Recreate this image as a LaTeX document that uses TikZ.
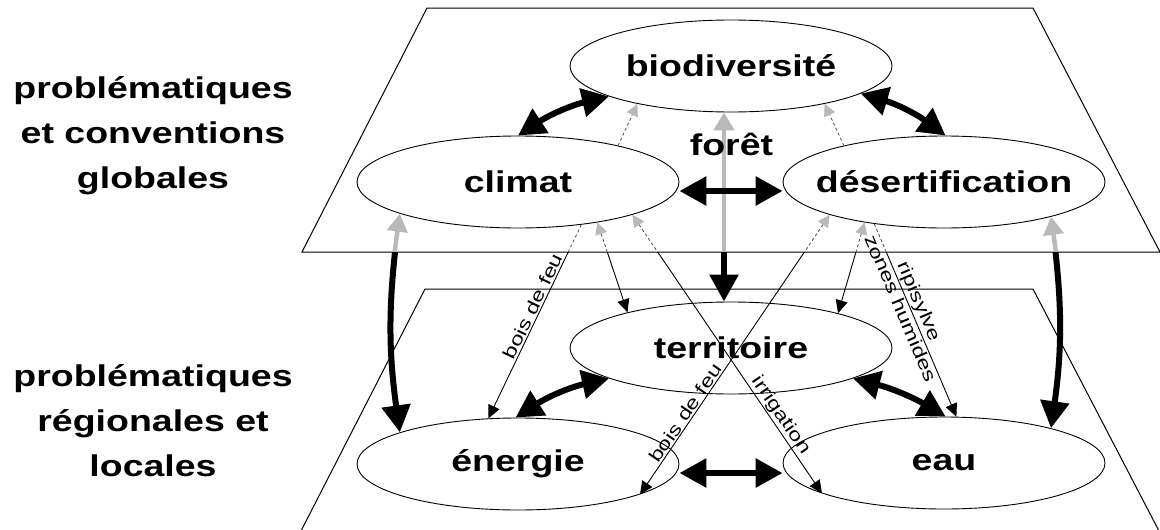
\documentclass[tikz,border=0pt]{standalone}
\usepackage{fontspec}
\setmainfont{Liberation Sans}[FakeStretch=1.25]
\newfontfamily\labfont{Liberation Sans}[FakeStretch=1.3]
\usetikzlibrary{arrows.meta,shapes.geometric,calc}
\tikzset{
  ell/.style={draw, ellipse, fill=white, line width=0.9pt, minimum width=322pt, minimum height=92pt, inner sep=0pt, font=\fontsize{30}{36}\selectfont\bfseries},
  bigtext/.style={inner sep=0pt, font=\fontsize{30}{36}\selectfont\bfseries},
  side/.style={align=center, inner sep=0pt, font=\fontsize{30}{45}\selectfont\bfseries},
  lab/.style={inner sep=1.5pt, font=\labfont\fontsize{18}{20}\selectfont},
  plane/.style={draw, line width=1pt},
  gtip/.tip={Triangle[width=12pt,length=12pt,color=gray!55]},
  btip/.tip={Triangle[width=12pt,length=13pt,color=black]},
  Gtip/.tip={Triangle[width=20pt,length=18pt,color=gray!55]},
  Btip/.tip={Triangle[width=28pt,length=27pt,color=black]},
  thinup/.style={draw=black!70, line width=0.8pt, dash pattern=on 3pt off 2.5pt},
  thinlow/.style={draw=black, line width=0.9pt},
  gbig/.style={draw=gray!55, line width=4.5pt},
  bbig/.style={draw=black, line width=6pt},
}
\begin{document}
\begin{tikzpicture}[x=1pt,y=-1pt]
\useasboundingbox (0,0) rectangle (1160,530);
% planes
\draw[plane] (427,8) -- (1033,8) -- (1160,252) -- (302,252) -- cycle;
\draw[plane] (301.5,530) -- (425,289) -- (1033,289) -- (1158.5,530);
% side texts
\node[side, anchor=north] (tglob) at (153,76) {problématiques\\et conventions\\globales};
\node[side, anchor=north] (tloc) at (153,364) {problématiques\\régionales et\\locales};
% ellipses
\node[ell] (bio) at (731,66) {\makebox[0pt]{biodiversité}};
\node[ell] (climat) at (518,182) {\makebox[0pt]{climat}};
\node[ell] (desert) at (944,182) {\makebox[0pt]{désertification}};
\node[ell] (terr) at (731,348) {\makebox[0pt]{territoire}};
\node[ell] (energie) at (518,464) {\makebox[0pt]{énergie}};
\node[ell] (eau) at (944,463) {\makebox[0pt]{eau}};
% upper (global plane) parts
\begin{scope}
  \clip (0,0) rectangle (1160,252);
  \draw[thinup, -gtip] (climat.20) -- (bio.-158);
  \draw[thinup, -gtip] (desert.160) -- (bio.-22);
  \draw[thinup] (climat.-34) -- (energie.123);
  \draw[thinup, gtip-] (climat.-27) -- (terr.161);
  \draw[thinup, gtip-] (climat.-16) -- (eau.194);
  \draw[thinup, gtip-] (desert.-164) -- (energie.-14);
  \draw[thinup, gtip-] (desert.-153) -- (terr.18);
  \draw[thinup] (desert.-149) -- (eau.75);
  \draw[gbig, -Gtip] ([xshift=-7pt]terr.north) -- ([xshift=-7pt]bio.south);
  \draw[gbig, Gtip-] (climat.195) to[bend right=8] (energie.165);
  \draw[gbig, Gtip-] (desert.-18) to[bend left=8] (eau.18);
\end{scope}
% lower (regional plane) parts
\begin{scope}
  \clip (0,252) rectangle (1160,530);
  \draw[thinlow, -btip] (climat.-34) -- (energie.123);
  \draw[thinlow, -btip] (climat.-27) -- (terr.161);
  \draw[thinlow, -btip] (climat.-16) -- (eau.194);
  \draw[thinlow, -btip] (desert.-164) -- (energie.-14);
  \draw[thinlow, -btip] (desert.-153) -- (terr.18);
  \draw[thinlow, -btip] (desert.-149) -- (eau.75);
  \draw[bbig, -Btip] ([xshift=-7pt]bio.south) -- ([xshift=-7pt]terr.north);
  \draw[bbig, -Btip] (climat.195) to[bend right=8] (energie.165);
  \draw[bbig, -Btip] (desert.-18) to[bend left=8] (eau.18);
\end{scope}
% thick double arrows
\draw[bbig, Btip-Btip] (climat.90) to[bend left=10] (bio.194);
\draw[bbig, Btip-Btip] (bio.-12) to[bend left=10] (desert.88);
\draw[bbig, Btip-Btip] ([yshift=-9pt]climat.east) -- ([yshift=-9pt]desert.west);
\draw[bbig, Btip-Btip] (energie.93) to[bend left=10] (terr.194);
\draw[bbig, Btip-Btip] (terr.-14) to[bend left=8] (eau.88);
\draw[bbig, Btip-Btip] ([yshift=-9pt]energie.east) -- ([yshift=-10pt]eau.west);
% forêt
\node[bigtext, anchor=base] (foret) at (731.5,155) {forêt};
% connector labels
\path (climat.-34) -- node[lab, pos=0.44, sloped, above] {bois de feu} (energie.123);
\path (climat.-16) -- node[lab, pos=0.74, sloped, above] {irrigation} (eau.194);
\path (desert.-164) -- node[lab, pos=0.725, sloped, above] {bois de feu} (energie.-14);
\path (desert.-149) -- node[lab, pos=0.42, sloped, below] {zones humides} node[lab, pos=0.425, sloped, above] {ripisylve} (eau.75);
\end{tikzpicture}
\end{document}
